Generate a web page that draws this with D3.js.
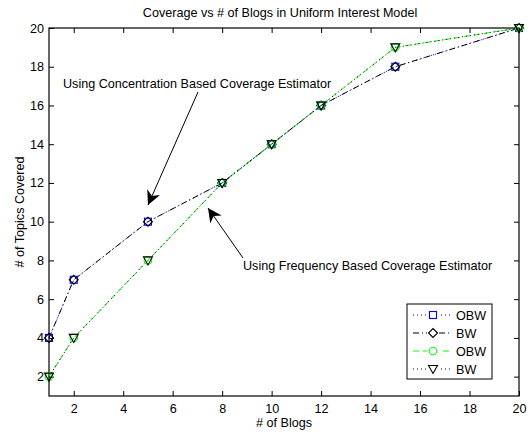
<!DOCTYPE html>
<html><head><meta charset="utf-8">
<script src="https://cdn.jsdelivr.net/npm/d3@7"></script>
<style>body{margin:0;background:#fff}svg{display:block}text{font-family:"Liberation Sans",Arial,Helvetica,sans-serif}</style>
</head><body>
<svg id="c" width="530" height="432"></svg>
<script>
const blogs = [1, 2, 5, 8, 10, 12, 15, 20];
const concentration = [4, 7, 10, 12, 14, 16, 18, 20];
const frequency = [2, 4, 8, 12, 14, 16, 19, 20];
const xTicks = [2, 4, 6, 8, 10, 12, 14, 16, 18, 20];
const yTicks = [2, 4, 6, 8, 10, 12, 14, 16, 18, 20];
const seriesNames = ["OBW", "BW", "OBW", "BW"];

const FS = 12.6;
const svg = d3.select("#c");
const L = 49, R = 519, T = 28, B = 396;
const x = d3.scaleLinear().domain([1, 20]).range([L, R]);
const y = d3.scaleLinear().domain([1, 20]).range([B, T]);

const series = [
  {name: seriesNames[0], vals: concentration, color: "#0000ff", dash: "1,3", marker: "square", mcolor: "#0000ff"},
  {name: seriesNames[1], vals: concentration, color: "#000", dash: "6,3,1,3", marker: "diamond", mcolor: "#000"},
  {name: seriesNames[2], vals: frequency, color: "#00ff00", dash: "6,4", marker: "circle", mcolor: "#00ff00"},
  {name: seriesNames[3], vals: frequency, color: "#000", dash: "1,3", marker: "tri", mcolor: "#000"}
];

function drawMarker(g, type, cx, cy, color) {
  if (type === "square") g.append("rect").attr("x", cx-3.5).attr("y", cy-3.5).attr("width", 7).attr("height", 7);
  else if (type === "diamond") g.append("path").attr("d", `M${cx},${cy-4.5}L${cx+4.5},${cy}L${cx},${cy+4.5}L${cx-4.5},${cy}Z`);
  else if (type === "circle") g.append("circle").attr("cx", cx).attr("cy", cy).attr("r", 3.8);
  else g.append("path").attr("d", `M${cx-4.5},${cy-3.5}L${cx+4.5},${cy-3.5}L${cx},${cy+4.5}Z`);
  g.selectAll(":last-child").attr("fill", "none").attr("stroke", color).attr("stroke-width", 1.1);
}

// axes
const axB = svg.append("g").attr("transform", `translate(0,${B})`).call(d3.axisBottom(x).tickValues(xTicks).tickSizeInner(-5).tickSizeOuter(0).tickPadding(8));
const axT = svg.append("g").attr("transform", `translate(0,${T})`).call(d3.axisTop(x).tickValues(xTicks).tickSizeInner(-5).tickSizeOuter(0).tickFormat(""));
const axL = svg.append("g").attr("transform", `translate(${L},0)`).call(d3.axisLeft(y).tickValues(yTicks).tickSizeInner(-5).tickSizeOuter(0).tickPadding(5));
const axR = svg.append("g").attr("transform", `translate(${R},0)`).call(d3.axisRight(y).tickValues(yTicks).tickSizeInner(-5).tickSizeOuter(0).tickFormat(""));
[axB, axT, axL, axR].forEach(a => {
  a.select(".domain").remove();
  a.selectAll("line").attr("stroke", "#000");
  a.selectAll("text").attr("font-size", FS).attr("fill", "#000").style("font-family", "Liberation Sans, Arial, sans-serif");
});
svg.append("rect").attr("x", L).attr("y", T).attr("width", R-L).attr("height", B-T).attr("fill", "none").attr("stroke", "#000").attr("stroke-width", 1.2);

// lines
const line = d3.line().x((d,i) => x(blogs[i])).y(d => y(d));
series.forEach(s => {
  svg.append("path").attr("d", line(s.vals)).attr("fill", "none").attr("stroke", s.color).attr("stroke-width", 1).attr("stroke-dasharray", s.dash);
});
series.forEach(s => {
  const g = svg.append("g");
  s.vals.forEach((v,i) => drawMarker(g, s.marker, x(blogs[i]), y(v), s.mcolor));
});

// title & labels
svg.append("text").attr("x", 280).attr("y", 17).attr("text-anchor", "middle").attr("font-size", FS).text("Coverage vs # of Blogs in Uniform Interest Model");
svg.append("text").attr("x", 284).attr("y", 427).attr("text-anchor", "middle").attr("font-size", FS).text("# of Blogs");
svg.append("text").attr("transform", "translate(24,212) rotate(-90)").attr("text-anchor", "middle").attr("font-size", FS).text("# of Topics Covered");

// annotations
const defs = svg.append("defs");
defs.append("marker").attr("id", "ah").attr("viewBox", "0 0 10 10").attr("refX", 10).attr("refY", 5)
  .attr("markerWidth", 14).attr("markerHeight", 14).attr("markerUnits", "userSpaceOnUse").attr("orient", "auto")
  .append("path").attr("d", "M0,0L10,5L0,10L3,5Z").attr("fill", "#000");
svg.append("text").attr("x", 63).attr("y", 88).attr("font-size", FS).text("Using Concentration Based Coverage Estimator");
svg.append("line").attr("x1", 198).attr("y1", 92).attr("x2", 148).attr("y2", 205).attr("stroke", "#000").attr("stroke-width", 1).attr("marker-end", "url(#ah)");
svg.append("text").attr("x", 243).attr("y", 270).attr("font-size", FS).text("Using Frequency Based Coverage Estimator");
svg.append("line").attr("x1", 243).attr("y1", 258).attr("x2", 208).attr("y2", 208).attr("stroke", "#000").attr("stroke-width", 1).attr("marker-end", "url(#ah)");

// legend
const lg = svg.append("g");
lg.append("rect").attr("x", 407).attr("y", 304).attr("width", 85).attr("height", 75).attr("fill", "#fff").attr("stroke", "#000").attr("stroke-width", 1);
series.forEach((s,i) => {
  const yy = 315 + i*18;
  lg.append("line").attr("x1", 413).attr("x2", 451).attr("y1", yy).attr("y2", yy).attr("stroke", s.color).attr("stroke-width", 1).attr("stroke-dasharray", s.dash);
  const mg = lg.append("g");
  mg.append("rect").attr("x", 427).attr("y", yy-5).attr("width", 12).attr("height", 10).attr("fill", "#fff");
  drawMarker(mg, s.marker, 433, yy, s.mcolor);
  lg.append("text").attr("x", 456).attr("y", yy+4.5).attr("font-size", FS).text(s.name);
});
</script>
</body></html>
